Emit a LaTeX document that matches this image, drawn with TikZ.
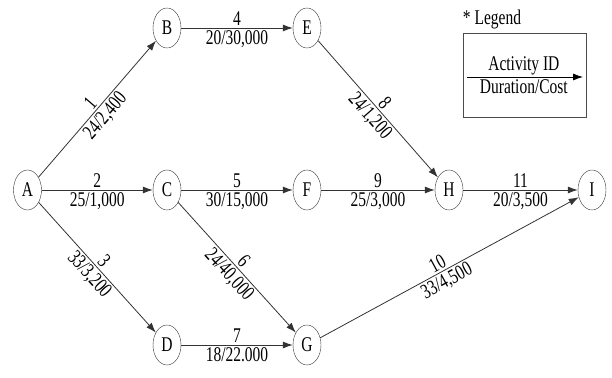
\documentclass[tikz,border=0pt]{standalone}
\usepackage{fontspec}
\usepackage{graphicx}
\setmainfont{Liberation Serif}
\usetikzlibrary{arrows.meta,shapes.geometric}

\newcommand{\vstretch}[1]{\scalebox{1}[1.35]{#1}}

\begin{document}
\begin{tikzpicture}[x=1pt,y=1pt,
  event/.style={ellipse,draw=black!80,fill=white,minimum width=28pt,minimum height=40pt,inner sep=0pt,font=\fontsize{15.5}{18}\selectfont},
  activity/.style={draw=black!80,line width=.8pt,-{Latex[length=10pt,width=7pt]}},
  idlabel/.style={above,inner sep=2pt,font=\fontsize{15.5}{18}\selectfont},
  costlabel/.style={below,inner sep=2pt,font=\fontsize{15.5}{18}\selectfont}
]
\useasboundingbox (0,0) rectangle (612,377);

\node[event] (A) at (27.5,187) {\vstretch{A}};
\node[event] (B) at (167,349) {\vstretch{B}};
\node[event] (C) at (167,187) {\vstretch{C}};
\node[event] (D) at (167,32) {\vstretch{D}};
\node[event] (E) at (307,349) {\vstretch{E}};
\node[event] (F) at (307,187) {\vstretch{F}};
\node[event] (G) at (307,32) {\vstretch{G}};
\node[event] (H) at (449,187) {\vstretch{H}};
\node[event] (I) at (592,187) {\vstretch{I}};

\draw[activity] (A) -- node[idlabel,sloped] {\vstretch{1}} node[costlabel,sloped] {\vstretch{24/2,400}} (B);
\draw[activity] (A) -- node[idlabel] {\vstretch{2}} node[costlabel] {\vstretch{25/1,000}} (C);
\draw[activity] (A) -- node[idlabel,sloped] {\vstretch{3}} node[costlabel,sloped] {\vstretch{33/3,200}} (D);
\draw[activity] (B) -- node[idlabel] {\vstretch{4}} node[costlabel] {\vstretch{20/30,000}} (E);
\draw[activity] (C) -- node[idlabel] {\vstretch{5}} node[costlabel] {\vstretch{30/15,000}} (F);
\draw[activity] (C) -- node[idlabel,sloped] {\vstretch{6}} node[costlabel,sloped] {\vstretch{24/40,000}} (G);
\draw[activity] (D) -- node[idlabel] {\vstretch{7}} node[costlabel] {\vstretch{18/22.000}} (G);
\draw[activity] (E) -- node[idlabel,sloped] {\vstretch{8}} node[costlabel,sloped] {\vstretch{24/1,200}} (H);
\draw[activity] (F) -- node[idlabel] {\vstretch{9}} node[costlabel] {\vstretch{25/3,000}} (H);
\draw[activity] (G) -- node[idlabel,sloped,pos=.47] {\vstretch{10}} node[costlabel,sloped,pos=.47] {\vstretch{33/4,500}} (I);
\draw[activity] (H) -- node[idlabel] {\vstretch{11}} node[costlabel] {\vstretch{20/3,500}} (I);

% legend
\node[font=\fontsize{15.5}{18}\selectfont] (legendtitle) at (492,357) {\vstretch{* Legend}};
\node[draw=black!70,line width=.8pt,minimum width=123pt,minimum height=84pt] (legendbox) at (524.5,302) {};
\coordinate (legstart) at (467,300);
\coordinate (legend) at (583,300);
\draw[activity,draw=black] (legstart) -- node[idlabel,pos=.49] {\vstretch{Activity ID}} node[costlabel,pos=.49] {\vstretch{Duration/Cost}} (legend);
\end{tikzpicture}
\end{document}
